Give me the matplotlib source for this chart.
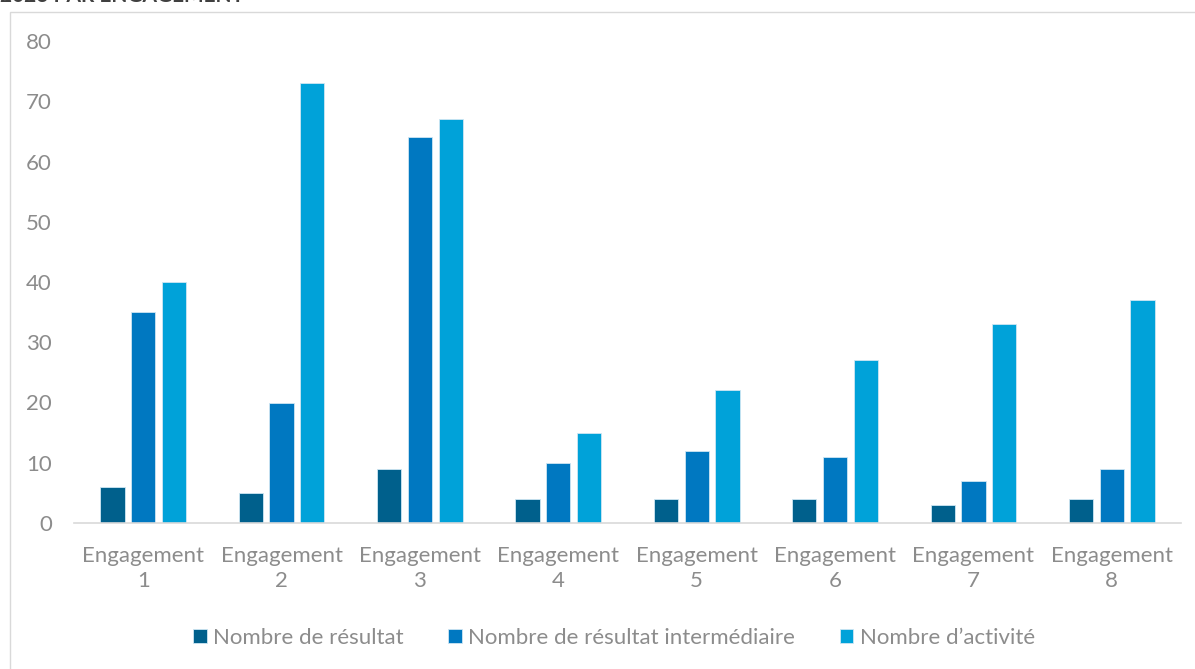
import numpy as np
import matplotlib
matplotlib.use("Agg")
from matplotlib import pyplot as plt
from matplotlib.patches import Rectangle

plt.rcParams["font.family"] = ["Lato", "DejaVu Sans"]

# ==================== Data ====================
categories = [f"Engagement\n{i}" for i in range(1, 9)]
series_names = [
    "Nombre de résultat",
    "Nombre de résultat intermédiaire",
    "Nombre d\u2019activité",
]
nb_resultat = [6, 5, 9, 4, 4, 4, 3, 4]
nb_intermediaire = [35, 20, 64, 10, 12, 11, 7, 9]
nb_activite = [40, 73, 67, 15, 22, 27, 33, 37]
colors = ["#00608C", "#0078C1", "#00A2D9"]
text_color = "#8C8C8C"

# ==================== Figure ====================
fig = plt.figure(figsize=(11.95, 6.69), dpi=100)

# chart frame (cut at right / bottom like the screenshot)
frame = Rectangle((10 / 1195, -0.05), 1.1, 1 - 12 / 669 + 0.05,
                  transform=fig.transFigure, fill=False,
                  edgecolor="#D9D9D9", linewidth=1.0)
fig.patches.append(frame)

# title, cut off at the top in the original screenshot
fig.text(0.0, 1.0 + 4 / 669, "2023 PAR ENGAGEMENT", fontsize=15,
         fontweight="bold", color="#404040", va="center", ha="left")

ax = fig.add_axes([74 / 1195, 146 / 669, (1181 - 74) / 1195, 482 / 669])

x = np.arange(len(categories))
width = 0.175
step = 0.222
for k, (vals, name) in enumerate(zip([nb_resultat, nb_intermediaire, nb_activite], series_names)):
    ax.bar(x + (k - 1) * step, vals, width, color=colors[k], label=name,
           edgecolor="#CFE6F3", linewidth=0.6)

ax.set_xlim(-0.5, len(categories) - 0.5)
ax.set_ylim(0, 80)
ax.set_yticks(range(0, 81, 10))
ax.set_xticks(x)
ax.set_xticklabels(categories, linespacing=1.3)

for side in ["top", "right", "left"]:
    ax.spines[side].set_visible(False)
ax.spines["bottom"].set_color("#D9D9D9")
ax.spines["bottom"].set_linewidth(1.2)

ax.tick_params(axis="both", length=0, labelsize=16, labelcolor=text_color)
ax.tick_params(axis="y", pad=16)
ax.tick_params(axis="x", pad=16.5)

# legend centred near x = 614, y = 638 px from top
leg_x = (614 - 74) / 1107
leg_y = -(146 - (669 - 638)) / 482
leg = ax.legend(loc="center", bbox_to_anchor=(leg_x, leg_y),
                ncol=3, frameon=False, fontsize=16, handlelength=0.6,
                handleheight=0.6, handletextpad=0.3, columnspacing=2.0)
for t in leg.get_texts():
    t.set_color(text_color)

plt.savefig("out.png", dpi=100)
